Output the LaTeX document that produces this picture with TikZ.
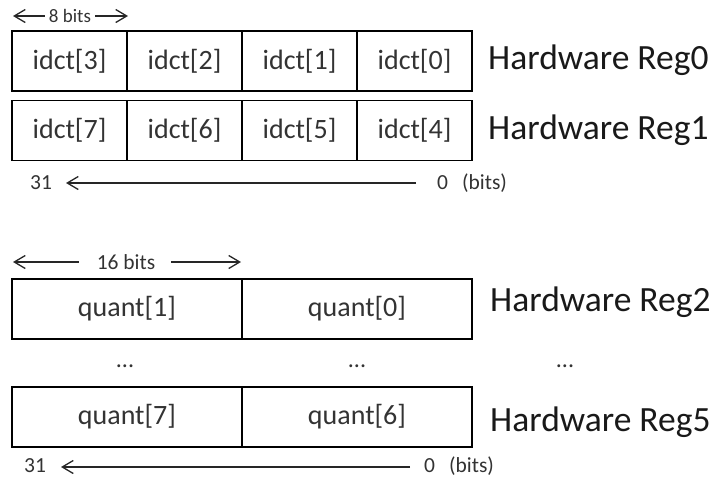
\documentclass[tikz,border=0pt]{standalone}
\usepackage{fontspec}
\setmainfont{Carlito}
\usetikzlibrary{arrows.meta}
\begin{document}
\begin{tikzpicture}[x=1pt,y=-1pt,
  cell/.style={draw=black,line width=1.3pt,rectangle,minimum height=60pt,inner sep=0pt,
    text=black!80,font=\fontsize{28}{32}\selectfont},
  qcell/.style={cell,minimum width=230pt},
  icell/.style={cell,minimum width=115pt},
  reglab/.style={anchor=west,inner sep=0pt,text=black!90,font=\fontsize{35.5}{40}\selectfont},
  small/.style={inner sep=0pt,text=black!80,font=\fontsize{21.5}{24}\selectfont},
  tiny/.style={inner sep=0pt,text=black!80,font=\fontsize{19}{22}\selectfont},
  dots/.style={inner sep=0pt,text=black!80,font=\fontsize{24}{26}\selectfont},
  arr/.style={-{Straight Barb[length=11pt,width=13pt,line width=1.3pt]},line width=1.3pt,draw=black!85}
]
\useasboundingbox (0,0) rectangle (720,480);
% top section: Reg0
\node[icell] (i3) at (69.5,61) {idct[3]};
\node[icell] (i2) at (184.5,61) {idct[2]};
\node[icell] (i1) at (299.5,61) {idct[1]};
\node[icell] (i0) at (414.5,61) {idct[0]};
\node[reglab] (r0) at (488,60) {Hardware Reg0};
% Reg1
\node[icell] (i7) at (69.5,130.5) {idct[7]};
\node[icell] (i6) at (184.5,130.5) {idct[6]};
\node[icell] (i5) at (299.5,130.5) {idct[5]};
\node[icell] (i4) at (414.5,130.5) {idct[4]};
\node[reglab] (r1) at (488,130) {Hardware Reg1};
% 8 bits
\node[tiny] (b8) at (70,16) {8 bits};
\coordinate (b8l) at (13,16);
\coordinate (b8r) at (128,16);
\draw[arr] ([xshift=-4pt]b8.west) -- (b8l);
\draw[arr] ([xshift=4pt]b8.east) -- (b8r);
% 31 <- 0 (bits)
\node[small] (t31) at (41,183) {31};
\node[small,anchor=west] (t0) at (437,183) {0\hspace{14pt}(bits)};
\coordinate (t31a) at (66,183);
\coordinate (t0a) at (416,183);
\draw[arr] (t0a) -- (t31a);
% bottom section: 16 bits
\node[small] (b16) at (126,262) {16 bits};
\coordinate (b16l) at (13,262);
\coordinate (b16r) at (241,262);
\draw[arr] ([xshift=-18pt]b16.west) -- (b16l);
\draw[arr] ([xshift=16pt]b16.east) -- (b16r);
% Reg2
\node[qcell] (q1) at (127,309) {quant[1]};
\node[qcell] (q0) at (357,309) {quant[0]};
\node[reglab] (r2) at (490,302) {Hardware Reg2};
% dots
\node[dots] (d1) at (125,366) {...};
\node[dots] (d2) at (357,366) {...};
\node[dots] (d3) at (565,366) {...};
% Reg5
\node[qcell] (q7) at (127,417) {quant[7]};
\node[qcell] (q6) at (357,417) {quant[6]};
\node[reglab] (r5) at (490,422) {Hardware Reg5};
% 31 <- 0 (bits)
\node[small] (u31) at (35,466) {31};
\node[small,anchor=west] (u0) at (424,466) {0\hspace{14pt}(bits)};
\coordinate (u31a) at (61,467);
\coordinate (u0a) at (410,467);
\draw[arr] (u0a) -- (u31a);
\end{tikzpicture}
\end{document}
